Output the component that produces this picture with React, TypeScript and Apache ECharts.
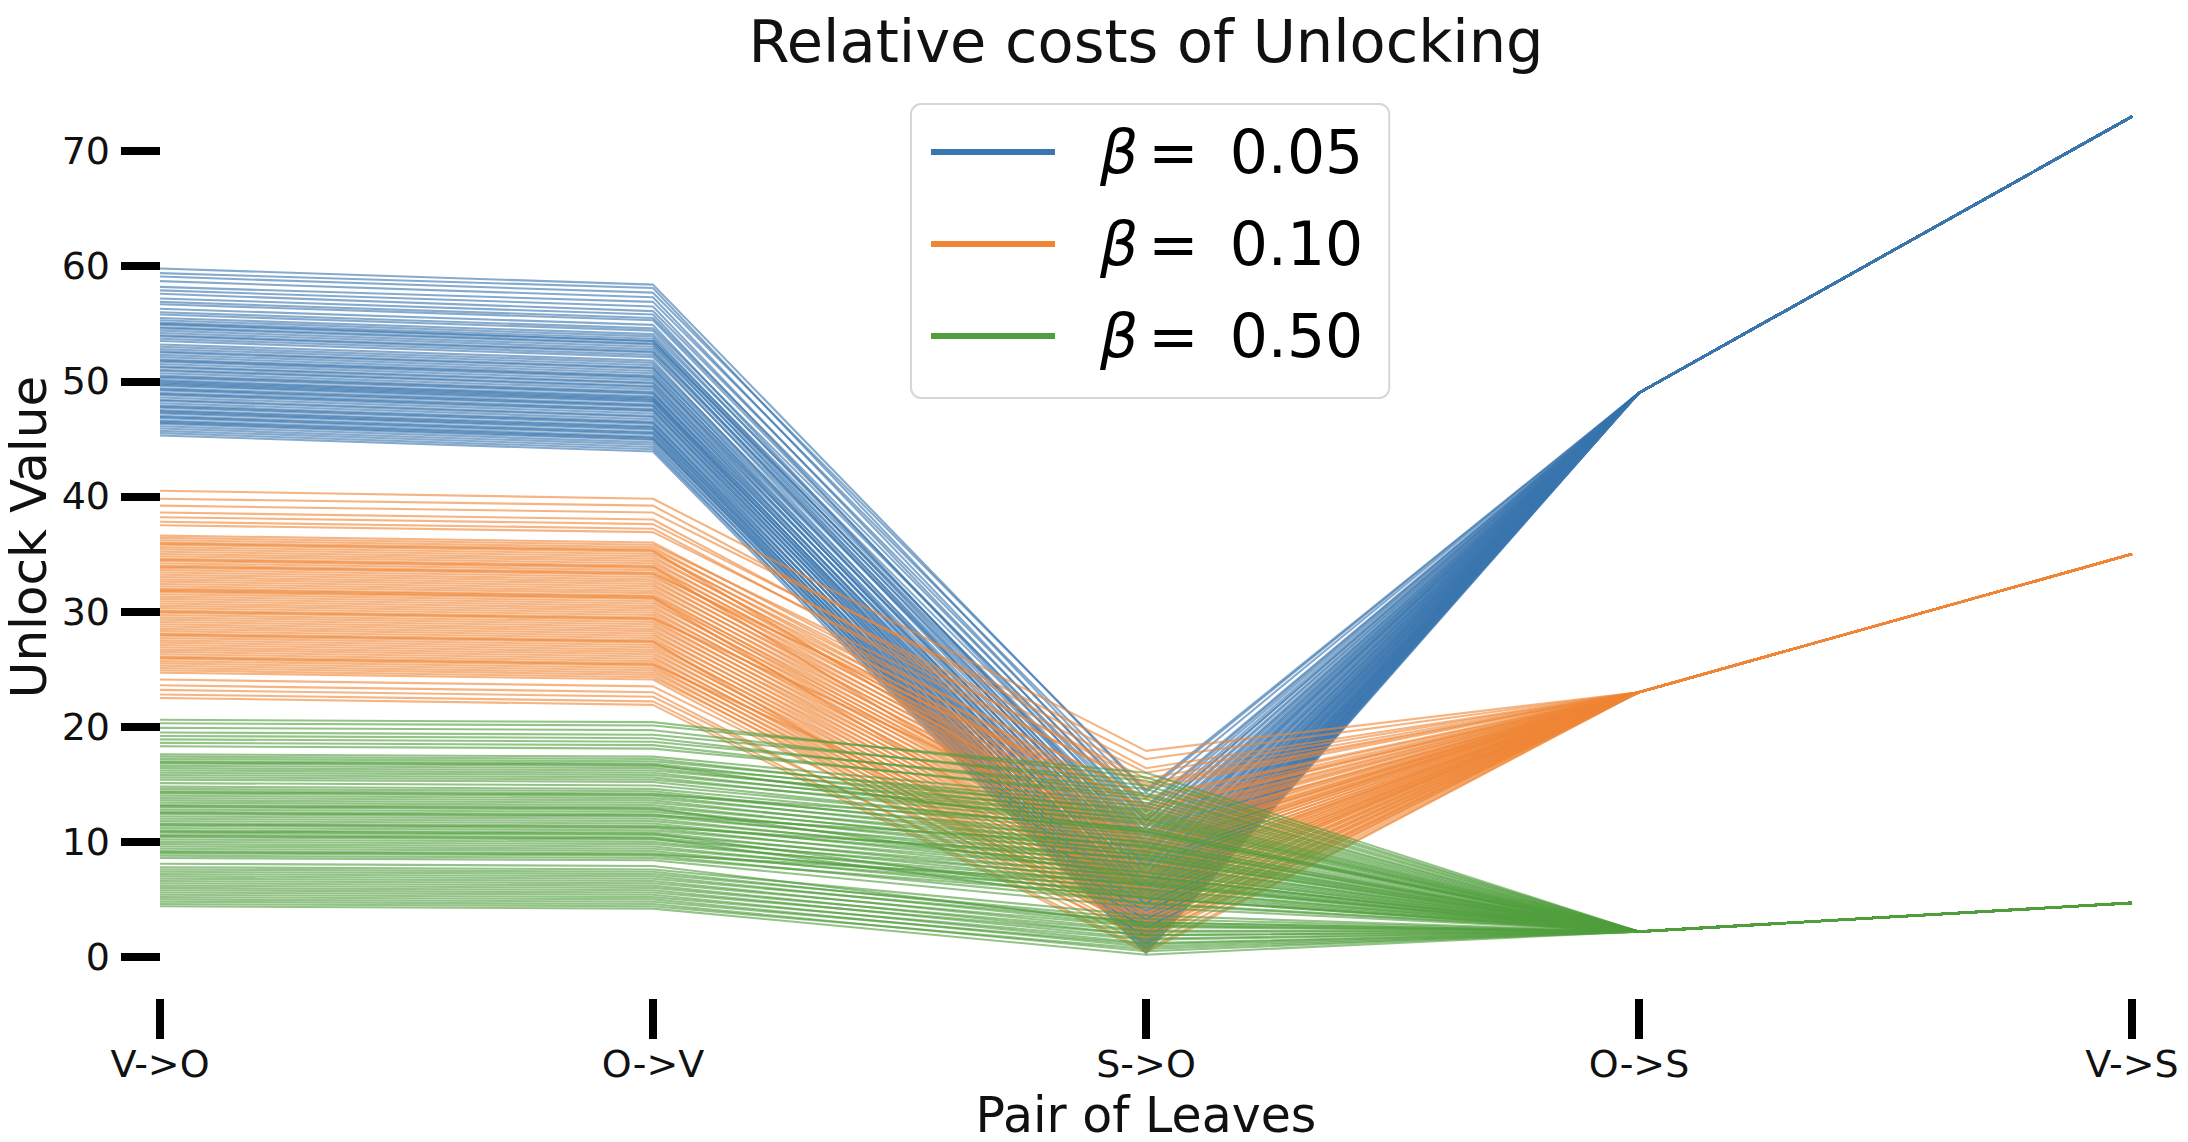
import React, { useEffect, useRef } from 'react';
import * as echarts from 'echarts';

const CATEGORIES = ['V->O', 'O->V', 'S->O', 'O->S', 'V->S'];
const BETA_VALUES = ['0.05', '0.10', '0.50'];
const BETA_LABELS = ['β = 0.05', 'β = 0.10', 'β = 0.50'];
const COLORS = ['#3a76af', '#ef8636', '#519e3e'];
const Y_TICKS = [0, 10, 20, 30, 40, 50, 60, 70];
const Y_MIN = -3.65;
const Y_MAX = 76.65;

// shared values for the last two axes, one per β
const OS_VALUES = [49.0, 23.0, 2.2];
const VS_VALUES = [73.0, 35.0, 4.7];

// β = 0.05
const BLUE_VO = [
  59.8, 59.4, 59.1, 58.7, 58.2, 57.9, 57.6, 57.2, 56.9, 56.7,
  56.3, 56.0, 55.8, 55.5, 55.3, 55.1, 55.0, 54.9, 54.7, 54.6,
  54.4, 54.2, 54.0, 53.9, 53.7, 53.5, 53.2, 53.0, 52.8, 52.6,
  52.5, 52.3, 52.1, 51.9, 51.8, 51.7, 51.5, 51.3, 51.2, 51.0,
  50.9, 50.7, 50.5, 50.4, 50.3, 50.1, 50.0, 49.9, 49.8, 49.7,
  49.6, 49.4, 49.3, 49.2, 49.0, 48.9, 48.8, 48.6, 48.4, 48.3,
  48.1, 47.9, 47.8, 47.7, 47.5, 47.4, 47.3, 47.2, 47.0, 46.9,
  46.8, 46.6, 46.5, 46.4, 46.3, 46.1, 45.9, 45.7, 45.5, 45.3,
];
const BLUE_OV = [
  58.4, 58.1, 57.7, 57.3, 56.9, 56.5, 56.1, 55.8, 55.5, 55.3,
  54.9, 54.6, 54.4, 54.1, 53.9, 53.7, 53.5, 53.5, 53.3, 53.2,
  53.0, 52.8, 52.6, 52.5, 52.3, 52.1, 51.8, 51.6, 51.4, 51.2,
  51.1, 50.9, 50.7, 50.5, 50.4, 50.3, 50.1, 49.9, 49.8, 49.6,
  49.5, 49.3, 49.1, 49.0, 48.9, 48.7, 48.6, 48.5, 48.4, 48.3,
  48.2, 48.0, 47.9, 47.8, 47.6, 47.5, 47.4, 47.2, 47.0, 46.9,
  46.7, 46.5, 46.4, 46.3, 46.1, 46.0, 45.9, 45.8, 45.6, 45.5,
  45.4, 45.2, 45.1, 45.0, 44.9, 44.7, 44.5, 44.3, 44.1, 43.9,
];
const BLUE_SO = [
  14.3, 13.1, 14.5, 12.6, 13.8, 11.9, 12.9, 10.8, 12.2, 11.4,
  9.7, 11.8, 10.1, 11.2, 9.2, 10.6, 8.9, 9.9, 10.4, 8.3,
  9.5, 7.9, 9.1, 8.6, 7.2, 8.8, 6.9, 8.1, 7.6, 6.3,
  7.8, 5.9, 7.3, 6.6, 5.4, 7.0, 6.1, 4.8, 6.5, 5.6,
  4.4, 5.9, 5.1, 3.9, 5.7, 4.6, 3.5, 5.2, 4.2, 3.1,
  4.9, 3.7, 2.8, 4.5, 3.3, 2.4, 4.0, 2.9, 2.0, 3.6,
  2.6, 1.7, 3.2, 2.2, 1.4, 2.9, 1.9, 1.1, 2.5, 1.6,
  0.9, 2.1, 1.2, 0.7, 1.8, 0.6, 1.3, 0.4, 0.9, 0.3,
];

// β = 0.10
const ORANGE_VO = [
  40.5, 39.8, 39.2, 38.6, 38.2, 37.8, 37.5, 36.6, 36.4, 36.2,
  36.0, 35.9, 35.8, 35.6, 35.4, 35.2, 35.0, 34.8, 34.6, 34.5,
  34.4, 34.2, 34.0, 33.9, 33.8, 33.6, 33.4, 33.2, 33.0, 32.8,
  32.6, 32.4, 32.2, 32.0, 31.9, 31.8, 31.7, 31.5, 31.3, 31.1,
  30.9, 30.7, 30.5, 30.3, 30.1, 30.0, 29.9, 29.7, 29.5, 29.3,
  29.1, 28.9, 28.7, 28.5, 28.3, 28.1, 28.0, 27.9, 27.7, 27.5,
  27.3, 27.1, 26.9, 26.7, 26.5, 26.3, 26.1, 26.0, 25.9, 25.7,
  25.5, 25.3, 25.1, 24.9, 24.7, 24.1, 23.6, 23.2, 22.8, 22.5,
];
const ORANGE_OV = [
  39.8, 39.2, 38.6, 38.0, 37.6, 37.2, 36.9, 36.0, 35.8, 35.6,
  35.4, 35.3, 35.2, 35.0, 34.8, 34.6, 34.4, 34.2, 34.0, 33.9,
  33.8, 33.6, 33.4, 33.3, 33.2, 33.0, 32.8, 32.6, 32.4, 32.2,
  32.0, 31.8, 31.6, 31.4, 31.3, 31.2, 31.1, 30.9, 30.7, 30.5,
  30.3, 30.1, 29.9, 29.7, 29.5, 29.4, 29.3, 29.1, 28.9, 28.7,
  28.5, 28.3, 28.1, 27.9, 27.7, 27.5, 27.4, 27.3, 27.1, 26.9,
  26.7, 26.5, 26.3, 26.1, 25.9, 25.7, 25.5, 25.4, 25.3, 25.1,
  24.9, 24.7, 24.5, 24.3, 24.1, 23.5, 23.0, 22.6, 22.2, 21.9,
];
const ORANGE_SO = [
  17.9, 16.4, 17.2, 15.1, 16.0, 14.6, 15.5, 13.7, 14.9, 12.8,
  13.9, 9.1, 12.1, 13.3, 11.6, 12.7, 11.0, 12.3, 10.7, 7.3,
  11.8, 10.2, 11.4, 13.0, 9.8, 10.9, 9.4, 10.5, 9.0, 10.1,
  8.6, 9.7, 8.2, 9.3, 7.8, 5.2, 8.9, 7.5, 8.6, 7.1,
  8.2, 6.7, 7.8, 6.4, 7.4, 9.9, 6.0, 7.0, 5.6, 6.7,
  5.3, 6.3, 4.9, 5.9, 4.5, 5.6, 2.0, 4.2, 5.2, 3.8,
  4.9, 3.5, 4.5, 3.1, 4.2, 2.8, 3.8, 6.0, 2.4, 3.5,
  2.1, 3.1, 1.7, 2.8, 1.4, 2.3, 1.0, 1.6, 0.6, 0.4,
];

// β = 0.50
const GREEN_VO = [
  20.6, 20.3, 19.9, 19.5, 19.2, 18.9, 18.6, 18.3, 17.6, 17.4,
  17.2, 17.0, 16.9, 16.8, 16.6, 16.4, 16.2, 16.0, 15.8, 15.6,
  15.4, 15.1, 14.8, 14.6, 14.4, 14.3, 14.2, 14.0, 13.8, 13.6,
  13.4, 13.2, 13.1, 13.0, 12.8, 12.6, 12.5, 12.4, 12.2, 12.0,
  11.8, 11.6, 11.5, 11.4, 11.2, 11.0, 10.9, 10.8, 10.6, 10.5,
  10.4, 10.2, 10.0, 9.8, 9.6, 9.4, 9.2, 9.1, 9.0, 8.8,
  8.6, 8.1, 7.8, 7.6, 7.4, 7.2, 7.0, 6.8, 6.6, 6.4,
  6.2, 6.0, 5.8, 5.6, 5.4, 5.2, 5.0, 4.8, 4.6, 4.4,
];
const GREEN_OV = [
  20.4, 20.1, 19.7, 19.3, 19.0, 18.7, 18.4, 18.1, 17.4, 17.2,
  17.0, 16.8, 16.7, 16.6, 16.4, 16.2, 16.0, 15.8, 15.6, 15.4,
  15.2, 14.9, 14.6, 14.4, 14.2, 14.1, 14.0, 13.8, 13.6, 13.4,
  13.2, 13.0, 12.9, 12.8, 12.6, 12.4, 12.3, 12.2, 12.0, 11.8,
  11.6, 11.4, 11.3, 11.2, 11.0, 10.8, 10.7, 10.6, 10.4, 10.3,
  10.2, 10.0, 9.8, 9.6, 9.4, 9.2, 9.0, 8.9, 8.8, 8.6,
  8.4, 7.9, 7.6, 7.4, 7.2, 7.0, 6.8, 6.6, 6.4, 6.2,
  6.0, 5.8, 5.6, 5.4, 5.2, 5.0, 4.8, 4.6, 4.4, 4.2,
];
const GREEN_SO = [
  15.6, 16.0, 14.9, 15.3, 14.2, 14.6, 13.7, 14.0, 13.4, 12.6,
  13.1, 12.2, 10.9, 12.8, 11.9, 12.4, 11.5, 12.0, 11.1, 11.7,
  10.8, 10.9, 10.6, 9.9, 10.3, 11.2, 9.5, 10.0, 9.1, 9.6,
  8.8, 9.2, 7.0, 8.4, 8.9, 8.0, 9.7, 8.5, 7.6, 8.1,
  7.3, 7.8, 8.6, 6.9, 7.4, 6.5, 5.1, 7.0, 6.2, 4.6,
  6.7, 5.8, 6.3, 5.4, 5.9, 5.1, 5.6, 6.4, 4.7, 5.2,
  4.3, 2.8, 3.6, 3.0, 3.3, 2.7, 3.0, 2.3, 2.6, 1.9,
  2.2, 1.6, 1.9, 1.2, 1.5, 0.9, 1.1, 0.5, 0.7, 0.2,
];

const GROUPS = [
  { vo: BLUE_VO, ov: BLUE_OV, so: BLUE_SO },
  { vo: ORANGE_VO, ov: ORANGE_OV, so: ORANGE_SO },
  { vo: GREEN_VO, ov: GREEN_OV, so: GREEN_SO },
];

const FONT = 'DejaVu Sans';

function buildOption(): any {
  const series: any[] = [];
  GROUPS.forEach((g, gi) => {
    for (let i = 0; i < g.vo.length; i++) {
      series.push({
        type: 'line',
        name: BETA_LABELS[gi],
        data: [g.vo[i], g.ov[i], g.so[i], OS_VALUES[gi], VS_VALUES[gi]],
        symbol: 'none',
        silent: true,
        clip: false,
        color: COLORS[gi],
        lineStyle: { color: COLORS[gi], width: 2.1, opacity: 0.62 },
        emphasis: { disabled: true },
        z: 2,
      });
    }
  });

  return {
    animation: false,
    backgroundColor: '#ffffff',
    grid: { left: 160, right: 56, top: 74.5, bottom: 143, containLabel: false },
    xAxis: {
      type: 'category',
      data: CATEGORIES,
      boundaryGap: false,
      axisLine: { show: false, onZero: false },
      axisTick: { show: true, length: 40, lineStyle: { color: '#000', width: 8 } },
      axisLabel: { margin: 46, fontSize: 38, fontFamily: FONT, color: '#111' },
      splitLine: { show: false },
    },
    yAxis: {
      type: 'value',
      min: Y_MIN,
      max: Y_MAX,
      axisLine: { show: false, onZero: false },
      axisTick: { show: true, length: 39, customValues: Y_TICKS, lineStyle: { color: '#000', width: 8 } },
      axisLabel: { margin: 50, fontSize: 38, fontFamily: FONT, color: '#111', customValues: Y_TICKS },
      splitLine: { show: false },
    },
    legend: {
      data: BETA_LABELS,
      orient: 'vertical',
      left: 911,
      top: 104,
      padding: [18, 26, 32, 20],
      itemWidth: 124,
      itemHeight: 6,
      itemGap: 32,
      icon: 'rect',
      selectedMode: false,
      backgroundColor: '#ffffff',
      borderColor: '#d6d6d6',
      borderWidth: 2,
      borderRadius: 10,
      formatter: (n: string) => {
        const idx = BETA_LABELS.indexOf(n);
        return '{b|β}{e|=} ' + BETA_VALUES[idx];
      },
      textStyle: {
        fontSize: 60,
        fontFamily: FONT,
        color: '#000',
        lineHeight: 60,
        rich: {
          b: { fontSize: 60, fontFamily: FONT, fontStyle: 'italic', color: '#000', padding: [0, 0, 0, 40], lineHeight: 60 },
          e: { fontSize: 60, fontFamily: FONT, color: '#000', padding: [0, 12, 0, 10], lineHeight: 60 },
        },
      },
      z: 10,
    },
    graphic: [
      {
        type: 'text',
        x: 1146,
        y: 41,
        style: { text: 'Relative costs of Unlocking', fontSize: 59, fontFamily: FONT, fill: '#111', align: 'center', verticalAlign: 'middle' },
      },
      {
        type: 'text',
        x: 1146,
        y: 1115,
        style: { text: 'Pair of Leaves', fontSize: 49, fontFamily: FONT, fill: '#111', align: 'center', verticalAlign: 'middle' },
      },
      {
        type: 'text',
        x: 29,
        y: 537,
        rotation: Math.PI / 2,
        style: { text: 'Unlock Value', fontSize: 50, fontFamily: FONT, fill: '#111', align: 'center', verticalAlign: 'middle' },
      },
    ],
    series,
  };
}

export default function App() {
  const ref = useRef<HTMLDivElement>(null);
  useEffect(() => {
    if (!ref.current) return;
    const chart = echarts.init(ref.current, null, { renderer: 'svg' });
    chart.setOption(buildOption());
    return () => chart.dispose();
  }, []);
  return (
    <div
      ref={ref}
      style={{ position: 'fixed', left: 0, top: 0, width: '2188px', height: '1142px', background: '#fff' }}
    />
  );
}
